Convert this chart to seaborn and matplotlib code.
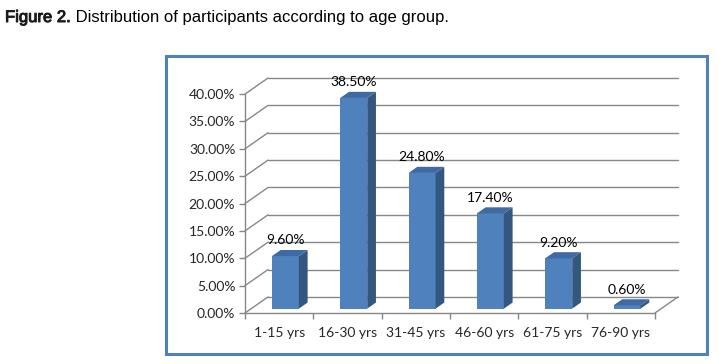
import matplotlib
matplotlib.use("Agg")
import matplotlib.pyplot as plt
import matplotlib.patheffects as pe
from matplotlib.patches import Polygon, Rectangle
import seaborn as sns

sns.set_style("white")
plt.rcParams['font.family'] = ['Lato', 'DejaVu Sans']

# data
age_groups = ["1-15 yrs", "16-30 yrs", "31-45 yrs", "46-60 yrs", "61-75 yrs", "76-90 yrs"]
percentages = [9.60, 38.50, 24.80, 17.40, 9.20, 0.60]
y_ticks = [0, 5, 10, 15, 20, 25, 30, 35, 40]
title_lead = "Figure 2."
title_rest = " Distribution of participants according to age group."

FRONT = "#4F81BD"
SIDE = "#34577F"
TOP = "#3F6AA3"
GRID = "#878787"
BORDER = "#4F81BD"
DX, DY = 0.337, 2.94   # depth of the 3d box (data units)
F0, FD = 0.27, 0.38    # where bars start in depth and how deep they are
BAR_W = 0.395
FS = 10

W, H = 726, 364
fig = plt.figure(figsize=(W / 100, H / 100), dpi=100)
ax = fig.add_axes([245 / W, 51 / H, 433 / W, 235 / H])

sns.barplot(x=age_groups, y=percentages, color=FRONT, saturation=1,
            width=BAR_W, ax=ax, zorder=3)

n = len(age_groups)

# walls + floor
for t in y_ticks:
    ax.plot([-0.5, -0.5 + DX], [t, t + DY], color=GRID, lw=1, zorder=1, clip_on=False)
    ax.plot([-0.5 + DX, n - 0.5 + DX], [t + DY, t + DY], color=GRID, lw=1,
            zorder=1, clip_on=False)
ax.plot([n - 0.5, n - 0.5 + DX], [0, DY], color=GRID, lw=1, zorder=1, clip_on=False)

# turn flat bars into boxes
for p, v in zip(ax.patches, percentages):
    x0 = p.get_x() + F0 * DX
    y0 = F0 * DY
    p.set_x(x0)
    p.set_y(y0)
    p.set_linewidth(0)
    x1 = x0 + BAR_W
    top = y0 + v
    ddx, ddy = FD * DX, FD * DY
    ax.add_patch(Polygon([(x1, y0), (x1 + ddx, y0 + ddy), (x1 + ddx, top + ddy), (x1, top)],
                         closed=True, fc=SIDE, ec="none", zorder=3))
    ax.add_patch(Polygon([(x0, top), (x1, top), (x1 + ddx, top + ddy), (x0 + ddx, top + ddy)],
                         closed=True, fc=TOP, ec="none", zorder=3))
    ax.annotate(f"{v:.2f}%", xy=(x0 + BAR_W / 2, top + ddy), xytext=(0, 4),
                textcoords="offset points", ha="center", va="baseline",
                fontsize=FS, color="black")

ax.set_xlim(-0.5, n - 0.5 + DX)
ax.set_ylim(0, y_ticks[-1] + DY)
ax.grid(False)
ax.patch.set_visible(False)
ax.set_xlabel("")
ax.set_ylabel("")

for side in ["top", "right"]:
    ax.spines[side].set_visible(False)
ax.spines["left"].set_bounds(0, y_ticks[-1])
ax.spines["bottom"].set_bounds(-0.5, n - 0.5)
for side in ["left", "bottom"]:
    ax.spines[side].set_color(GRID)
    ax.spines[side].set_linewidth(1)

ax.set_yticks(y_ticks)
ax.set_yticklabels([f"{t:.2f}%" for t in y_ticks])
ax.set_xticks([i - 0.5 for i in range(n + 1)])
ax.set_xticklabels([""] * (n + 1))
ax.set_xticks(range(n), minor=True)
ax.set_xticklabels(age_groups, minor=True)
ax.tick_params(axis="y", direction="out", length=4, width=1, color=GRID,
               labelsize=FS, pad=3, left=True)
ax.tick_params(axis="x", which="major", direction="out", length=4, width=1,
               color=GRID, bottom=True)
ax.tick_params(axis="x", which="minor", length=0, labelsize=FS, pad=10)

# outer frame of the chart
fig.patches.append(Rectangle((166 / W, 10 / H), 541 / W, 298 / H, transform=fig.transFigure,
                             fill=False, ec=BORDER, lw=2.2))

# caption
t1 = fig.text(5 / W, 1 - 22 / H, title_lead, fontsize=12,
              family=["Liberation Sans", "DejaVu Sans"], va="baseline", color="#1a1a1a",
              path_effects=[pe.withStroke(linewidth=0.7, foreground="#1a1a1a")])
renderer = fig.canvas.get_renderer()
bb = t1.get_window_extent(renderer)
fig.text(bb.x1 / W, 1 - 22 / H, title_rest, fontsize=12,
         family=["Liberation Sans", "DejaVu Sans"], va="baseline", color="black")

fig.savefig("out.png", dpi=100)
